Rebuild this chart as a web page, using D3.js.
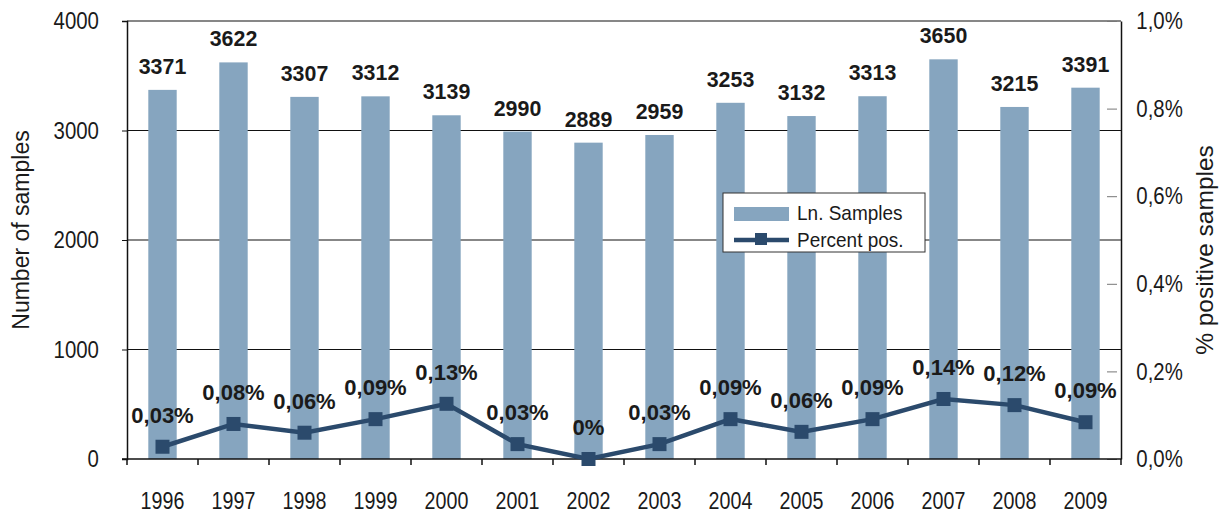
<!DOCTYPE html>
<html>
<head>
<meta charset="utf-8">
<script src="https://cdn.jsdelivr.net/npm/d3@7"></script>
<style>
  body { margin: 0; background: #fff; }
  text { font-family: "Liberation Sans", Arial, sans-serif; fill: #1a1a1a; }
  .val { font-weight: bold; }
</style>
</head>
<body>
<script>
var years = ["1996","1997","1998","1999","2000","2001","2002","2003","2004","2005","2006","2007","2008","2009"];
var samples = [3371, 3622, 3307, 3312, 3139, 2990, 2889, 2959, 3253, 3132, 3313, 3650, 3215, 3391];
var percentPos = [0.028, 0.080, 0.060, 0.091, 0.126, 0.034, 0, 0.034, 0.091, 0.062, 0.091, 0.137, 0.123, 0.084];
var pctLabels = ["0,03%","0,08%","0,06%","0,09%","0,13%","0,03%","0%","0,03%","0,09%","0,06%","0,09%","0,14%","0,12%","0,09%"];
var leftTicks = [0, 1000, 2000, 3000, 4000];
var rightTicks = [0, 0.2, 0.4, 0.6, 0.8, 1.0];

var W = 1225, H = 513;
var mLeft = 127, mRight = 1121, mTop = 21, mBottom = 459;
var barColor = "#86a5bf", lineColor = "#2b4a6c";

var svg = d3.select("body").append("svg")
    .attr("width", W)
    .attr("height", H);

//squeezes text horizontally to mimic the condensed font
function narrow(sel, sx){
    sel.each(function(){
        var t = d3.select(this);
        var tx = +t.attr("x") || 0, ty = +t.attr("y") || 0;
        t.attr("x", 0).attr("y", 0)
         .attr("transform", "translate(" + tx + "," + ty + ") scale(" + sx + ",1)");
    });
}

//scales
var x = d3.scaleBand()
    .domain(years)
    .range([mLeft, mRight])
    .paddingInner(0.6)
    .paddingOuter(0.3);

var y = d3.scaleLinear()
    .domain([0, 4000])
    .range([mBottom, mTop]);

var y2 = d3.scaleLinear()
    .domain([0, 1.0])
    .range([mBottom, mTop]);

var cx = function(d){ return x(d) + x.bandwidth() / 2; };

//gridlines
svg.append("g").selectAll("line")
    .data(leftTicks.slice(1))
    .enter().append("line")
    .attr("x1", mLeft).attr("x2", mRight)
    .attr("y1", function(d){ return y(d); })
    .attr("y2", function(d){ return y(d); })
    .attr("stroke", "#111")
    .attr("stroke-width", 1.2);

//bars
svg.append("g").selectAll("rect")
    .data(samples)
    .enter().append("rect")
    .attr("x", function(d, i){ return x(years[i]); })
    .attr("width", x.bandwidth())
    .attr("y", function(d){ return y(d); })
    .attr("height", function(d){ return mBottom - y(d); })
    .attr("fill", barColor);

//bar labels
svg.append("g").selectAll("text")
    .data(samples)
    .enter().append("text")
    .attr("class", "val")
    .attr("text-anchor", "middle")
    .attr("font-size", 23)
    .attr("x", function(d, i){ return cx(years[i]); })
    .attr("y", function(d){ return y(d) - 16; })
    .text(function(d){ return d; })
    .call(narrow, 0.93);

//left axis
var leftAxis = d3.axisLeft(y).tickValues(leftTicks).tickSize(5).tickPadding(28).tickFormat(d3.format("d"));
var gl = svg.append("g").attr("transform", "translate(" + mLeft + ",0)").call(leftAxis);
gl.select(".domain").attr("stroke", "#111").attr("stroke-width", 1.5);
gl.selectAll(".tick line").attr("stroke", "#111");
gl.selectAll(".tick text").attr("font-size", 24).attr("fill", "#1a1a1a")
    .style("font-family", "'Liberation Sans', Arial, sans-serif")
    .attr("transform", "scale(0.85,1)");

//right axis
var rightAxis = d3.axisRight(y2).tickValues(rightTicks).tickSize(0).tickPadding(18)
    .tickFormat(function(d){ return d3.format(".1f")(d).replace(".", ",") + "%"; });
var gr = svg.append("g").attr("transform", "translate(" + mRight + ",0)").call(rightAxis);
gr.select(".domain").attr("stroke", "#111").attr("stroke-width", 1.5);
gr.selectAll(".tick text").attr("font-size", 24).attr("fill", "#1a1a1a")
    .style("font-family", "'Liberation Sans', Arial, sans-serif")
    .attr("transform", "scale(0.85,1)");
gr.selectAll(".tick").append("line")
    .attr("x1", -14).attr("x2", -4)
    .attr("stroke", "#777").attr("stroke-width", 1);

//bottom axis
var gb = svg.append("g").attr("transform", "translate(0," + mBottom + ")");
gb.append("line").attr("x1", mLeft - 5).attr("x2", mRight)
    .attr("stroke", "#111").attr("stroke-width", 1.5);
gb.selectAll(".tk")
    .data(years.concat(["end"]))
    .enter().append("line")
    .attr("x1", function(d, i){ return mLeft + i * x.step(); })
    .attr("x2", function(d, i){ return mLeft + i * x.step(); })
    .attr("y1", 0).attr("y2", 6)
    .attr("stroke", "#111").attr("stroke-width", 1.5);
gb.selectAll(".yr")
    .data(years)
    .enter().append("text")
    .attr("text-anchor", "middle")
    .attr("font-size", 24)
    .attr("x", function(d){ return cx(d); })
    .attr("y", 50)
    .text(function(d){ return d; })
    .call(narrow, 0.82);

//line
var line = d3.line()
    .x(function(d, i){ return cx(years[i]); })
    .y(function(d){ return y2(d); });

svg.append("path")
    .datum(percentPos)
    .attr("d", line)
    .attr("fill", "none")
    .attr("stroke", lineColor)
    .attr("stroke-width", 4.5);

svg.append("g").selectAll("rect")
    .data(percentPos)
    .enter().append("rect")
    .attr("x", function(d, i){ return cx(years[i]) - 7; })
    .attr("y", function(d){ return y2(d) - 7; })
    .attr("width", 14).attr("height", 14)
    .attr("fill", lineColor);

svg.append("g").selectAll("text")
    .data(percentPos)
    .enter().append("text")
    .attr("class", "val")
    .attr("text-anchor", "middle")
    .attr("font-size", 22)
    .attr("x", function(d, i){ return cx(years[i]); })
    .attr("y", function(d){ return y2(d) - 24; })
    .text(function(d, i){ return pctLabels[i]; });

//axis titles
svg.append("text")
    .attr("transform", "translate(29,230) rotate(-90)")
    .attr("text-anchor", "middle")
    .attr("font-size", 23)
    .text("Number of samples");

svg.append("text")
    .attr("transform", "translate(1213,250) rotate(-90)")
    .attr("text-anchor", "middle")
    .attr("font-size", 24.5)
    .text("% positive samples");

//legend
var lg = svg.append("g").attr("transform", "translate(723,193)");
lg.append("rect")
    .attr("width", 202).attr("height", 59)
    .attr("fill", "#fff").attr("stroke", "#333").attr("stroke-width", 1);
lg.append("rect")
    .attr("x", 11).attr("y", 14).attr("width", 55).attr("height", 14)
    .attr("fill", barColor);
lg.append("text").attr("x", 74).attr("y", 27).attr("font-size", 20).text("Ln. Samples").call(narrow, 0.95);
lg.append("line")
    .attr("x1", 11).attr("x2", 66).attr("y1", 47).attr("y2", 47)
    .attr("stroke", lineColor).attr("stroke-width", 4.5);
lg.append("rect")
    .attr("x", 32).attr("y", 40).attr("width", 12).attr("height", 12)
    .attr("fill", lineColor);
lg.append("text").attr("x", 74).attr("y", 54).attr("font-size", 20).text("Percent pos.").call(narrow, 0.95);
</script>
</body>
</html>
